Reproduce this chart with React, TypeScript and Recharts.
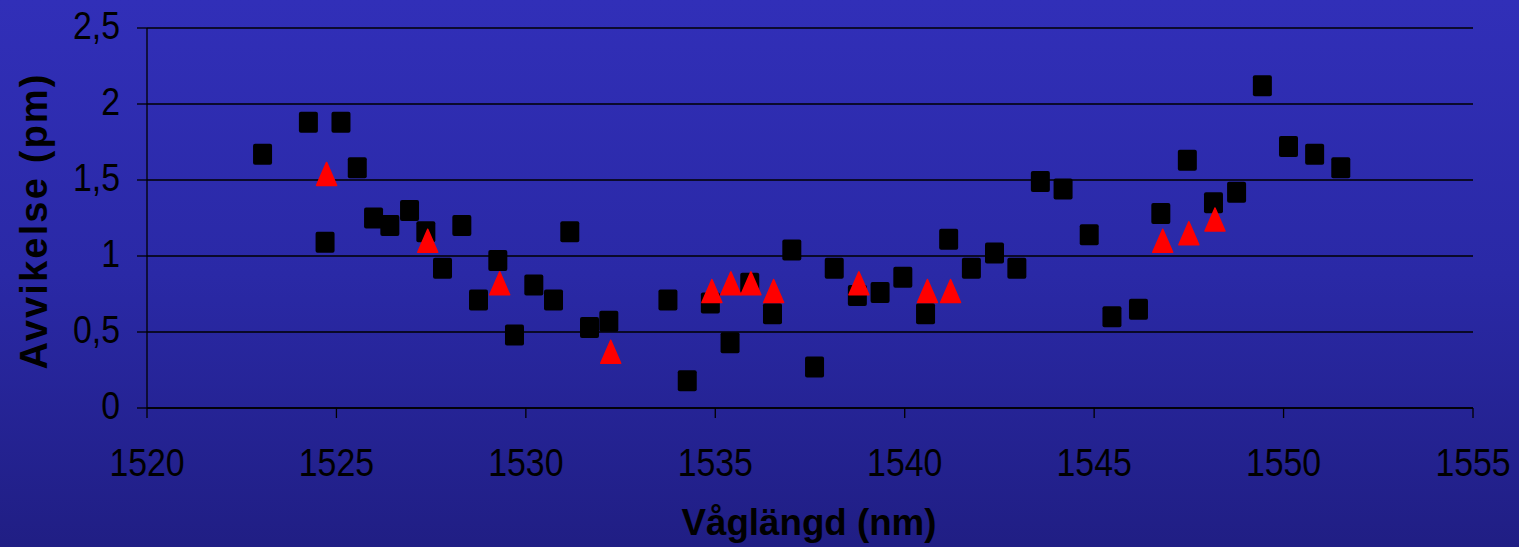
import { ScatterChart, Scatter, XAxis, YAxis, CartesianGrid } from "recharts";

// black squares: wavelength (nm) / deviation (pm)
const squareX = [
  1523.05, 1524.26, 1525.12, 1524.7, 1525.55, 1525.98, 1526.41, 1526.93, 1527.36, 1527.8,
  1528.31, 1528.75, 1529.26, 1529.7, 1530.21, 1530.73, 1531.16, 1531.68, 1532.19, 1533.75,
  1534.26, 1534.87, 1535.39, 1535.91, 1536.51, 1537.02, 1537.62, 1538.14, 1538.75, 1539.35,
  1539.95, 1540.55, 1541.16, 1541.76, 1542.37, 1542.96, 1543.58, 1544.18, 1544.87, 1545.47,
  1546.17, 1546.76, 1547.46, 1548.15, 1548.76, 1549.44, 1550.13, 1550.82, 1551.51,
];
const squareY = [
  1.67, 1.88, 1.88, 1.09, 1.58, 1.25, 1.2, 1.3, 1.16, 0.92,
  1.2, 0.71, 0.97, 0.48, 0.81, 0.71, 1.16, 0.53, 0.57, 0.71,
  0.18, 0.69, 0.43, 0.82, 0.62, 1.04, 0.27, 0.92, 0.74, 0.76,
  0.86, 0.62, 1.11, 0.92, 1.02, 0.92, 1.49, 1.44, 1.14, 0.6,
  0.65, 1.28, 1.63, 1.35, 1.42, 2.12, 1.72, 1.67, 1.58,
];

// red triangles
const triX = [
  1524.74, 1527.41, 1529.31, 1532.24, 1534.91, 1535.41, 1535.94, 1536.54, 1538.79, 1540.6,
  1541.21, 1546.81, 1547.5, 1548.19,
];
const triY = [
  1.54, 1.1, 0.82, 0.37, 0.77, 0.82, 0.82, 0.77, 0.82, 0.77,
  0.77, 1.1, 1.15, 1.24,
];

const xTicks = [1520, 1525, 1530, 1535, 1540, 1545, 1550, 1555];
const yTicks = [0, 0.5, 1, 1.5, 2, 2.5];

const squares = squareX.map((x, i) => ({ x, y: squareY[i] }));
const triangles = triX.map((x, i) => ({ x, y: triY[i] }));

const FONT = '"Liberation Sans", Arial, sans-serif';

const Square = (p: any) => (
  <rect x={p.cx - 9.5} y={p.cy - 10.5} width={19} height={21} rx={2} fill="#000" />
);

const Triangle = (p: any) => (
  <polygon
    points={`${p.cx},${p.cy - 11.5} ${p.cx - 10},${p.cy + 11.5} ${p.cx + 10},${p.cy + 11.5}`}
    fill="#ff0000"
    stroke="#ff0000"
    strokeWidth={1.5}
    strokeLinejoin="round"
  />
);

const XTick = ({ x, y, payload }: any) => (
  <g transform={`translate(${x},${y + 58}) scale(0.89,1)`}>
    <text textAnchor="middle" fontSize={38} fontFamily={FONT} fill="#000">
      {payload.value}
    </text>
  </g>
);

const YTick = ({ x, y, payload }: any) => (
  <g transform={`translate(${x - 17},${y + 11}) scale(0.89,1)`}>
    <text textAnchor="end" fontSize={38} fontFamily={FONT} fill="#000">
      {String(payload.value).replace(".", ",")}
    </text>
  </g>
);

export default function App() {
  return (
    <div
      style={{
        position: "relative",
        width: 1519,
        height: 547,
        background: "linear-gradient(to bottom, #312fb8 0%, #2a29a6 50%, #201e84 100%)",
      }}
    >
      <style>{"body{margin:0}"}</style>
      <ScatterChart width={1519} height={547} margin={{ top: 28, right: 46, bottom: 0, left: 0 }}>
        <CartesianGrid vertical={false} stroke="#000" strokeWidth={1.3} />
        <XAxis
          type="number"
          dataKey="x"
          domain={[1520, 1555]}
          ticks={xTicks}
          interval={0}
          height={139}
          tickSize={10}
          tickMargin={0}
          axisLine={{ stroke: "#000", strokeWidth: 1.3 }}
          tickLine={{ stroke: "#000", strokeWidth: 1.3 }}
          tick={<XTick />}
        />
        <YAxis
          type="number"
          dataKey="y"
          domain={[0, 2.5]}
          ticks={yTicks}
          interval={0}
          width={147}
          tickSize={10}
          tickMargin={0}
          axisLine={{ stroke: "#000", strokeWidth: 1.3 }}
          tickLine={{ stroke: "#000", strokeWidth: 1.3 }}
          tick={<YTick />}
        />
        <Scatter data={squares} shape={Square} isAnimationActive={false} />
        <Scatter data={triangles} shape={Triangle} isAnimationActive={false} />
      </ScatterChart>
      <svg
        width={1519}
        height={547}
        style={{ position: "absolute", left: 0, top: 0, pointerEvents: "none" }}
      >
        <text
          x={809}
          y={535}
          textAnchor="middle"
          fontSize={36}
          fontWeight="bold"
          fontFamily={FONT}
          textLength={255}
          lengthAdjust="spacingAndGlyphs"
          fill="#000"
        >
          Våglängd (nm)
        </text>
        <text
          transform="translate(47,222) rotate(-90)"
          textAnchor="middle"
          fontSize={38}
          fontWeight="bold"
          fontFamily={FONT}
          textLength={295}
          lengthAdjust="spacing"
          fill="#000"
        >
          Avvikelse (pm)
        </text>
      </svg>
    </div>
  );
}
